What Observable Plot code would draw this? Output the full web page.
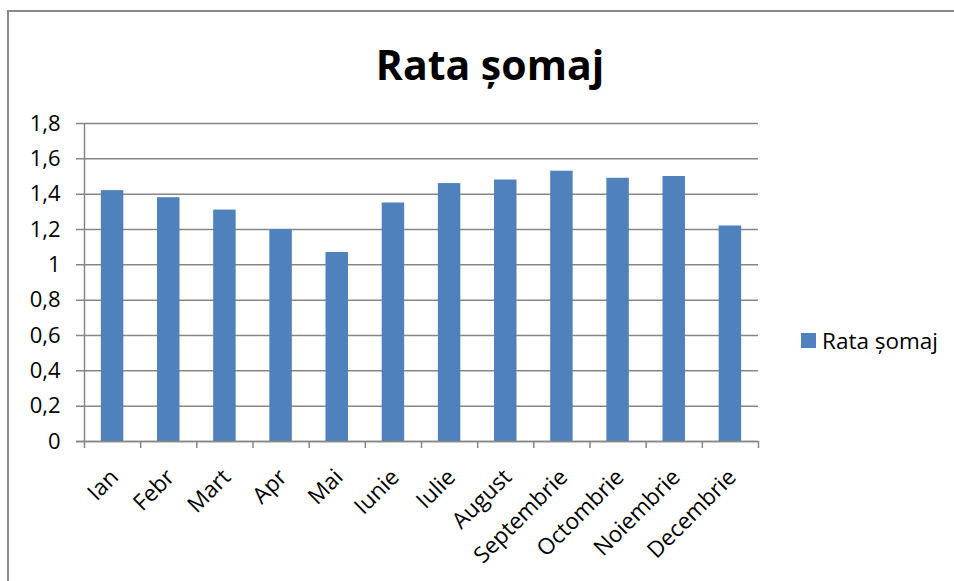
<!DOCTYPE html>
<html>
<head>
<meta charset="utf-8">
<script src="https://cdn.jsdelivr.net/npm/d3@7"></script>
<script src="https://cdn.jsdelivr.net/npm/@observablehq/plot@0.6"></script>
<style>
  html, body { margin: 0; padding: 0; background: #fff; }
  #wrap { position: relative; width: 954px; height: 581px; overflow: hidden; font-family: "Open Sans", sans-serif; }
  #frame { position: absolute; left: 7px; top: 10px; width: 2000px; height: 2000px; border: 2px solid #898989; box-sizing: border-box; }
  #title { position: absolute; left: 0; width: 980px; top: 44px; text-align: center; font-size: 41px; font-weight: 700; color: #000; line-height: 1; }
  #legend { position: absolute; left: 801px; top: 325px; display: flex; align-items: center; font-size: 22.5px; color: #000; }
  #legend .sw { width: 15px; height: 15px; background: #4F81BD; margin-right: 6px; }
  #chart { position: absolute; left: 0; top: 0; }
</style>
</head>
<body>
<div id="wrap">
  <div id="frame"></div>
  <div id="chart"></div>
  <div id="title"></div>
  <div id="legend"><div class="sw"></div><span id="legtext"></span></div>
</div>
<script>
const months = ["Ian","Febr","Mart","Apr","Mai","Iunie","Iulie","August","Septembrie","Octombrie","Noiembrie","Decembrie"];
const values = [1.42, 1.38, 1.31, 1.20, 1.07, 1.35, 1.46, 1.48, 1.53, 1.49, 1.50, 1.22];
const yTicks = [0, 0.2, 0.4, 0.6, 0.8, 1, 1.2, 1.4, 1.6, 1.8];
const seriesName = "Rata șomaj";
const chartTitle = "Rata șomaj";

document.getElementById("title").textContent = chartTitle;
document.getElementById("legtext").textContent = seriesName;

const data = months.map((m, i) => ({month: m, i, value: values[i]}));
const fmt = d => String(+d.toFixed(1)).replace(".", ",");
const gray = "#868686";

const chart = Plot.plot({
  width: 954,
  height: 581,
  marginLeft: 84,
  marginRight: 196,
  marginTop: 123,
  marginBottom: 140,
  style: {fontFamily: "Open Sans", fontSize: "22px", color: "#000", background: "transparent"},
  x: {type: "linear", domain: [0, months.length], axis: null},
  y: {domain: [0, 1.8], axis: null},
  marks: [
    Plot.ruleY(yTicks, {y: d => d, stroke: gray, strokeWidth: 1.5, insetLeft: -8}),
    Plot.rectY(data, {x1: d => d.i + 0.3, x2: d => d.i + 0.7, y1: 0, y2: "value", fill: "#4F81BD"}),
    Plot.ruleX([0], {y1: 0, y2: 1.8, stroke: gray, strokeWidth: 1.5}),
    Plot.ruleY([0], {stroke: gray, strokeWidth: 1.5, insetLeft: -8}),
    Plot.axisY(yTicks, {tickSize: 0, tickPadding: 24, tickFormat: fmt, fill: "#000", fontSize: 22, label: null}),
    Plot.axisX(d3.range(months.length + 1), {tickSize: 7, tickFormat: () => "", stroke: gray, strokeWidth: 1.5, label: null}),
    Plot.text(data, {x: d => d.i + 0.5, y: 0, text: "month", rotate: -45, textAnchor: "end", dy: 32, dx: 2, fill: "#000", fontSize: 22.5})
  ]
});
document.getElementById("chart").appendChild(chart);
</script>
</body>
</html>
